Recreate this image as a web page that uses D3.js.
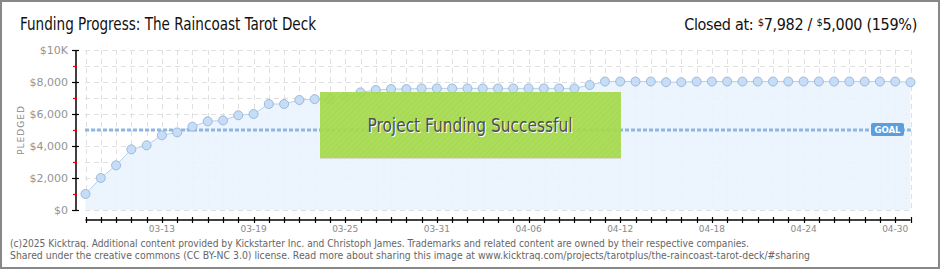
<!DOCTYPE html>
<html lang="en">
<head>
  <meta charset="UTF-8" />
  <title>Funding Progress: The Raincoast Tarot Deck</title>
  <style>
    html, body {
      margin: 0;
      padding: 0;
      background: #fff;
    }
    svg text { font-family: "DejaVu Sans", sans-serif; }
    .narrow { font-family: "Liberation Sans Narrow", "DejaVu Sans Condensed", sans-serif; }
  </style>
</head>
<body>
<svg id="chart" width="940" height="270"></svg>

<script src="https://d3js.org/d3.v7.min.js"></script>
<script>
  // daily pledged totals, starting 2025-03-08
  const startDate = "2025-03-08";
  const pledged = [
    1000, 2000, 2790, 3790, 4040, 4670, 4850, 5210, 5540, 5600,
    5920, 6000, 6625, 6625, 6875, 6930, 6950, 7060, 7350, 7500,
    7560, 7560, 7600, 7600, 7600, 7600, 7600, 7600, 7600, 7600,
    7600, 7600, 7600, 7810, 8030, 8030, 8030, 8030, 7990, 7990,
    8030, 8030, 8030, 8030, 8030, 8030, 8030, 8030, 8030, 8030,
    8030, 8030, 8030, 8030, 7982
  ];
  const goal = 5000;
  const yTicks = [0, 2000, 4000, 6000, 8000, 10000];
  const yTickLabels = ["$0", "$2,000", "$4,000", "$6,000", "$8,000", "$10K"];
  const xTickLabels = ["03-13", "03-19", "03-25", "03-31", "04-06", "04-12", "04-18", "04-24", "04-30"];

  const svg = d3.select("#chart");
  const parse = d3.timeParse("%Y-%m-%d");
  const t0 = parse(startDate);
  const data = pledged.map((v, i) => ({ date: d3.timeDay.offset(t0, i), value: v }));

  const x = d3.scaleTime()
    .domain([data[0].date, data[data.length - 1].date])
    .range([85.5, 910.5]);
  const y = d3.scaleLinear().domain([0, 10000]).range([210, 50]);

  // frame
  svg.append("rect")
    .attr("x", 1).attr("y", 1).attr("width", 938).attr("height", 267)
    .attr("fill", "#fff").attr("stroke", "#888").attr("stroke-width", 2);

  // title
  svg.append("text").attr("class", "narrow")
    .attr("x", 20).attr("y", 30)
    .attr("font-size", 17).attr("fill", "#111")
    .attr("textLength", 296).attr("lengthAdjust", "spacingAndGlyphs")
    .text("Funding Progress: The Raincoast Tarot Deck");

  const closed = svg.append("text").attr("class", "narrow")
    .attr("x", 917).attr("y", 30).attr("text-anchor", "end")
    .attr("font-size", 16).attr("letter-spacing", -0.3).attr("fill", "#111");
  closed.append("tspan").text("Closed at:  ");
  closed.append("tspan").attr("font-size", 11).attr("dy", -4).text("$");
  closed.append("tspan").attr("dy", 4).text("7,982 /  ");
  closed.append("tspan").attr("font-size", 11).attr("dy", -4).text("$");
  closed.append("tspan").attr("dy", 4).text("5,000 (159%)");

  // grid
  const grid = svg.append("g")
    .attr("stroke", "#e0e0e0").attr("stroke-width", 1)
    .attr("stroke-dasharray", "5,4");
  grid.selectAll("line.v").data(data).enter().append("line")
    .attr("x1", d => Math.round(x(d.date)) + 0.5).attr("x2", d => Math.round(x(d.date)) + 0.5)
    .attr("y1", 50).attr("y2", 210);
  grid.selectAll("line.h").data(d3.range(0, 10001, 1000)).enter().append("line")
    .attr("x1", 85).attr("x2", 911)
    .attr("y1", d => Math.round(y(d)) + 0.5).attr("y2", d => Math.round(y(d)) + 0.5);

  // area + line
  svg.append("path").datum(data)
    .attr("fill", "#eaf3fd").attr("fill-opacity", 0.9)
    .attr("d", d3.area().x(d => x(d.date)).y0(y(0)).y1(d => y(d.value)));
  svg.append("path").datum(data)
    .attr("fill", "none").attr("stroke", "#b3d2f2").attr("stroke-width", 1)
    .attr("d", d3.line().x(d => x(d.date)).y(d => y(d.value)));

  // goal line
  svg.append("line")
    .attr("x1", 85).attr("x2", 911)
    .attr("y1", y(goal)).attr("y2", y(goal))
    .attr("stroke", "#8db6e2").attr("stroke-width", 3)
    .attr("stroke-dasharray", "4,2");

  // points
  svg.selectAll("circle.pt").data(data).enter().append("circle")
    .attr("cx", d => x(d.date)).attr("cy", d => y(d.value))
    .attr("r", 4.5)
    .attr("fill", "#c5ddf7").attr("stroke", "#9fb9d9").attr("stroke-width", 1);

  // success banner
  const defs = svg.append("defs");
  const pat = defs.append("pattern").attr("id", "stripes")
    .attr("width", 4).attr("height", 4)
    .attr("patternUnits", "userSpaceOnUse")
    .attr("patternTransform", "rotate(45)");
  pat.append("rect").attr("width", 4).attr("height", 4).attr("fill", "#a6db4e");
  pat.append("line").attr("x1", 0).attr("y1", 0).attr("x2", 0).attr("y2", 4)
    .attr("stroke", "#9fd446").attr("stroke-width", 1.5);
  svg.append("rect")
    .attr("x", 320).attr("y", 92).attr("width", 301).attr("height", 66)
    .attr("fill", "url(#stripes)").attr("fill-opacity", 0.93);
  svg.append("line")
    .attr("x1", 320).attr("x2", 621).attr("y1", 158.5).attr("y2", 158.5)
    .attr("stroke", "#d8dcd0").attr("stroke-width", 1);
  svg.append("text").attr("class", "narrow")
    .attr("x", 470).attr("y", 132).attr("text-anchor", "middle")
    .attr("font-size", 19).attr("fill", "#fff")
    .attr("transform", "translate(1,1)")
    .attr("textLength", 205).attr("lengthAdjust", "spacingAndGlyphs")
    .text("Project Funding Successful");
  svg.append("text").attr("class", "narrow")
    .attr("x", 470).attr("y", 132).attr("text-anchor", "middle")
    .attr("font-size", 19).attr("fill", "#4f4f4f")
    .attr("textLength", 205).attr("lengthAdjust", "spacingAndGlyphs")
    .text("Project Funding Successful");

  // goal label
  svg.append("rect")
    .attr("x", 871).attr("y", 123).attr("width", 33).attr("height", 13).attr("rx", 2)
    .attr("fill", "#5b9ddd");
  svg.append("text")
    .attr("x", 887.5).attr("y", 133).attr("text-anchor", "middle")
    .attr("font-size", 9.5).attr("font-weight", "bold").attr("fill", "#fff")
    .attr("textLength", 26).attr("lengthAdjust", "spacingAndGlyphs")
    .text("GOAL");

  // y axis
  const yAxis = svg.append("g").attr("transform", "translate(76,0)");
  yAxis.append("line").attr("x1", 0).attr("x2", 0).attr("y1", 50).attr("y2", 210)
    .attr("stroke", "#000").attr("stroke-width", 1.5);
  yAxis.selectAll("line.major").data(yTicks).enter().append("line")
    .attr("x1", -4).attr("x2", 3)
    .attr("y1", d => Math.round(y(d)) + 0.5).attr("y2", d => Math.round(y(d)) + 0.5)
    .attr("stroke", "#000").attr("stroke-width", 1.2);
  yAxis.selectAll("line.minor").data([1000, 3000, 5000, 7000, 9000]).enter().append("line")
    .attr("x1", -3).attr("x2", 1)
    .attr("y1", d => Math.round(y(d)) + 0.5).attr("y2", d => Math.round(y(d)) + 0.5)
    .attr("stroke", "#e00000").attr("stroke-width", 1.2);
  yAxis.selectAll("text").data(yTicks).enter().append("text")
    .attr("x", -8).attr("y", d => y(d) + 4)
    .attr("text-anchor", "end").attr("font-size", 11).attr("fill", "#939393")
    .text((d, i) => yTickLabels[i]);

  svg.append("text")
    .attr("transform", "translate(24,130) rotate(-90)")
    .attr("text-anchor", "middle").attr("font-size", 9).attr("fill", "#8a8a8a")
    .attr("letter-spacing", 1)
    .text("PLEDGED");

  // x axis
  const xAxis = svg.append("g").attr("transform", "translate(0,220)");
  xAxis.append("line").attr("x1", x(data[0].date)).attr("x2", x(data[data.length - 1].date))
    .attr("y1", 0).attr("y2", 0).attr("stroke", "#000").attr("stroke-width", 1.5);
  xAxis.selectAll("line.tick").data(data).enter().append("line")
    .attr("x1", d => Math.round(x(d.date)) + 0.5).attr("x2", d => Math.round(x(d.date)) + 0.5)
    .attr("y1", -3).attr("y2", 3)
    .attr("stroke", "#000").attr("stroke-width", 1.2);
  const fmt = d3.timeFormat("%m-%d");
  xAxis.selectAll("text").data(data.filter(d => xTickLabels.includes(fmt(d.date)))).enter().append("text")
    .attr("x", d => x(d.date)).attr("y", 12)
    .attr("text-anchor", "middle").attr("font-size", 9).attr("fill", "#8a8a8a")
    .text(d => fmt(d.date));

  // footer
  svg.append("text")
    .attr("x", 10).attr("y", 247).attr("font-size", 10).attr("fill", "#666")
    .attr("textLength", 739).attr("lengthAdjust", "spacingAndGlyphs")
    .text("(c)2025 Kicktraq. Additional content provided by Kickstarter Inc. and Christoph James. Trademarks and related content are owned by their respective companies.");
  svg.append("text")
    .attr("x", 10).attr("y", 259).attr("font-size", 10).attr("fill", "#666")
    .attr("textLength", 800).attr("lengthAdjust", "spacingAndGlyphs")
    .text("Shared under the creative commons (CC BY-NC 3.0) license. Read more about sharing this image at www.kicktraq.com/projects/tarotplus/the-raincoast-tarot-deck/#sharing");
</script>
</body>
</html>
